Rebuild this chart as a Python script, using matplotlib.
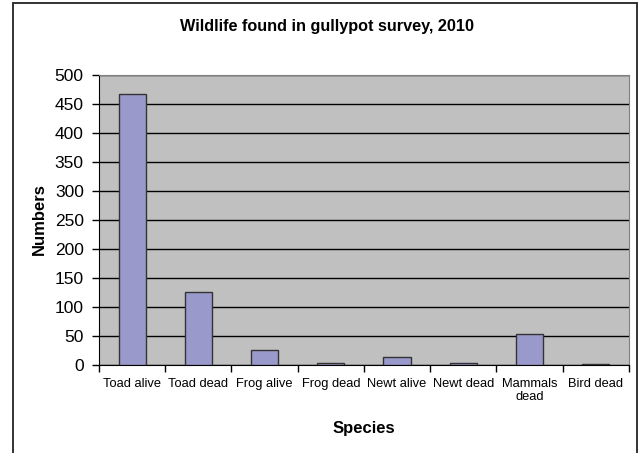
import matplotlib
matplotlib.use("Agg")
import matplotlib.pyplot as plt
from matplotlib.patches import Rectangle

plt.rcParams['font.family'] = ['Liberation Sans', 'DejaVu Sans']

# Data
species = ["Toad alive", "Toad dead", "Frog alive", "Frog dead",
           "Newt alive", "Newt dead", "Mammals\ndead", "Bird dead"]
numbers = [466, 126, 26, 3, 14, 3, 54, 1.5]
y_ticks = [0, 50, 100, 150, 200, 250, 300, 350, 400, 450, 500]

fig = plt.figure(figsize=(6.43, 4.53), dpi=100)
ax = fig.add_axes([0.154, 0.194, 0.824, 0.641])

# outer chart border
fig.patches.append(Rectangle((0.0202, -0.02), 0.9705, 1.0134, transform=fig.transFigure,
                             fill=False, edgecolor='#222222', linewidth=1.3))

ax.set_facecolor('#c0c0c0')
x = range(len(species))
ax.bar(x, numbers, width=0.41, color='#9999cc', edgecolor='#333333', linewidth=1.0, zorder=3)

ax.set_ylim(0, 500)
ax.set_xlim(-0.5, len(species) - 0.5)
ax.set_yticks(y_ticks)
ax.set_yticklabels([str(v) for v in y_ticks], fontsize=12.5)
ax.yaxis.grid(True, color='black', linewidth=1.0, zorder=1)
ax.set_axisbelow(True)

# x ticks at category boundaries, labels at centres
ax.set_xticks([i - 0.5 for i in range(len(species) + 1)])
ax.set_xticklabels([])
ax.set_xticks(list(x), minor=True)
ax.set_xticklabels(species, minor=True, fontsize=9.3)
ax.tick_params(axis='x', which='minor', length=0, pad=9)
ax.tick_params(axis='x', which='major', length=5, direction='out', width=1)
ax.tick_params(axis='y', length=5, width=1, pad=6)

for s in ['top', 'right']:
    ax.spines[s].set_color('#808080')
ax.spines['left'].set_color('black')
ax.spines['bottom'].set_color('black')

fig.text(326.5 / 643, 1 - 27 / 453, "Wildlife found in gullypot survey, 2010",
         fontsize=11.7, fontweight='bold', ha='center', va='center')
fig.text(364 / 643, 1 - 428 / 453, "Species", fontsize=12,
         fontweight='bold', ha='center', va='center')
fig.text(39 / 643, 1 - 219 / 453, "Numbers", fontsize=12, rotation=90,
         fontweight='bold', ha='center', va='center')

fig.savefig("out.png", dpi=100)
